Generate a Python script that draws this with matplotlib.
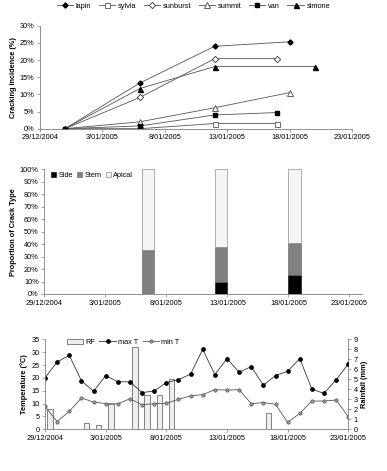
import matplotlib
matplotlib.use("Agg")
import matplotlib.pyplot as plt
import matplotlib.dates as mdates
from matplotlib.lines import Line2D
from matplotlib.patches import Patch
import pandas as pd
import numpy as np

plt.rcParams['font.family'] = ['Liberation Sans', 'DejaVu Sans']

# ---------------- data ----------------
tick_dates = ["2004-12-29", "2005-01-03", "2005-01-08", "2005-01-13", "2005-01-18", "2005-01-23"]
tick_labels = ["29/12/2004", "3/01/2005", "8/01/2005", "13/01/2005", "18/01/2005", "23/01/2005"]

# Panel 1: cracking incidence (%)
lapin_dates = ["2004-12-31", "2005-01-06", "2005-01-12", "2005-01-18"]
lapin = [0.0, 13.3, 24.0, 25.3]
sylvia_dates = ["2004-12-31", "2005-01-06", "2005-01-12", "2005-01-17"]
sylvia = [0.0, 0.0, 1.5, 1.5]
sunburst_dates = ["2004-12-31", "2005-01-06", "2005-01-12", "2005-01-17"]
sunburst = [0.0, 9.1, 20.4, 20.4]
summit_dates = ["2004-12-31", "2005-01-06", "2005-01-12", "2005-01-18"]
summit = [0.0, 2.0, 6.1, 10.5]
van_dates = ["2004-12-31", "2005-01-06", "2005-01-12", "2005-01-17"]
van = [0.0, 0.8, 4.0, 4.7]
simone_dates = ["2004-12-31", "2005-01-06", "2005-01-12", "2005-01-20"]
simone = [0.0, 11.7, 18.1, 18.1]

# Panel 2: proportion of crack type (%)
crack_dates = ["2005-01-06", "2005-01-12", "2005-01-18"]
side = [0.0, 9.6, 15.0]
stem = [35.5, 27.8, 26.2]
apical = [64.5, 62.6, 58.8]

# Panel 3: weather
weather_dates = pd.date_range("2004-12-29", "2005-01-23", freq="D")
max_t = [20.1, 26.2, 28.8, 18.9, 14.8, 20.9, 18.5, 18.5, 14.3, 14.9, 18.2, 19.3, 21.5,
         31.1, 21.3, 27.5, 22.2, 24.4, 17.2, 20.9, 22.6, 27.5, 15.6, 14.0, 19.3, 25.4]
min_t = [8.9, 3.0, 7.0, 12.2, 10.6, 10.0, 9.9, 11.9, 9.5, 10.0, 10.1, 11.7, 13.0,
         13.5, 15.4, 15.3, 15.4, 10.0, 10.4, 9.7, 2.7, 6.2, 11.0, 11.0, 11.4, 4.9]
rf_dates = ["2004-12-29", "2005-01-01", "2005-01-02", "2005-01-03", "2005-01-05",
            "2005-01-06", "2005-01-07", "2005-01-08", "2005-01-16"]
rainfall = [2.0, 0.6, 0.4, 2.5, 8.2, 3.4, 3.4, 5.0, 1.6]

# ---------------- styling helpers ----------------
FS = 5.3
AX_COL = "#808080"

def d(lst):
    return mdates.date2num(pd.to_datetime(lst))

xt = d(tick_dates)
x0 = d(["2004-12-29"])[0]

def style(ax, right=False):
    for s in ["top", "right"]:
        ax.spines[s].set_visible(False)
    for s in ["left", "bottom"]:
        ax.spines[s].set_color(AX_COL)
        ax.spines[s].set_linewidth(0.6)
    ax.tick_params(axis="both", labelsize=FS, length=2.5, width=0.5, color=AX_COL, pad=1.5)
    ax.set_xticks(xt)
    ax.set_xticklabels(tick_labels)

fig = plt.figure(figsize=(3.87, 4.71), dpi=100)

# ---------------- Panel 1 ----------------
ax1 = fig.add_axes([0.1034, 0.7268, 0.806, 0.2187])
style(ax1)
lc = "#555555"
series = [
    ("lapin", lapin_dates, lapin, dict(marker="D", ms=2.6, mfc="black", mec="black")),
    ("sylvia", sylvia_dates, sylvia, dict(marker="s", ms=3.6, mfc="white", mec="#555555", mew=0.6)),
    ("sunburst", sunburst_dates, sunburst, dict(marker="D", ms=3.2, mfc="white", mec="#333333", mew=0.6)),
    ("summit", summit_dates, summit, dict(marker="^", ms=4.0, mfc="white", mec="#444444", mew=0.6)),
    ("van", van_dates, van, dict(marker="s", ms=3.0, mfc="black", mec="black")),
    ("simone", simone_dates, simone, dict(marker="^", ms=3.6, mfc="black", mec="black")),
]
for name, dts, vals, mk in series:
    ax1.plot(d(dts), vals, color=lc, lw=0.6, label=name, **mk)
ax1.set_xlim(x0, x0 + 25)
ax1.set_ylim(0, 30)
ax1.set_yticks(np.arange(0, 31, 5))
ax1.set_yticklabels([f"{v}%" for v in range(0, 31, 5)])
ax1.set_ylabel("Cracking Incidence (%)", fontsize=FS, fontweight="bold", labelpad=2)
fig.legend(loc="center", bbox_to_anchor=(0.5, 0.987), ncol=6, frameon=False,
           fontsize=FS, handlelength=2.2, columnspacing=1.0, handletextpad=0.4,
           borderaxespad=0)

# ---------------- Panel 2 ----------------
ax2 = fig.add_axes([0.1145, 0.3758, 0.820, 0.2648])
style(ax2)
cx = d(crack_dates)
ax2.bar(cx, side, width=1.0, align="edge", color="black", edgecolor="black", lw=0.4, label="Side")
ax2.bar(cx, stem, width=1.0, align="edge", bottom=side, color="#808080", edgecolor="#606060", lw=0.4, label="Stem")
ax2.bar(cx, apical, width=1.0, align="edge", bottom=np.array(side) + np.array(stem),
        color="#f5f5f5", edgecolor="#777777", lw=0.4, label="Apical")
ax2.set_xlim(x0, x0 + 26)
ax2.set_ylim(0, 100)
ax2.set_yticks(np.arange(0, 101, 10))
ax2.set_yticklabels([f"{v}%" for v in range(0, 101, 10)])
ax2.set_ylabel("Proportion of Crack Type", fontsize=FS, fontweight="bold", labelpad=2)
ax2.legend(loc="upper left", bbox_to_anchor=(0.0, 1.03), ncol=3, frameon=False, fontsize=FS,
           handlelength=0.7, handleheight=0.7, columnspacing=0.6, handletextpad=0.3)

# ---------------- Panel 3 ----------------
ax3 = fig.add_axes([0.1163, 0.0885, 0.7837, 0.191])
style(ax3)
ax4 = ax3.twinx()
for s in ["top", "left", "bottom"]:
    ax4.spines[s].set_visible(False)
ax4.spines["right"].set_color(AX_COL)
ax4.spines["right"].set_linewidth(0.6)
ax4.tick_params(axis="y", labelsize=FS, length=2.5, width=0.5, color=AX_COL, pad=1.5)
rx = d(rf_dates)
ax4.bar(rx + 0.2, rainfall, width=0.45, align="edge", color="#eeeeee", edgecolor="#555555", lw=0.5)
ax4.set_ylim(0, 9)
ax4.set_yticks(range(0, 10))
ax4.set_ylabel("Rainfall (mm)", fontsize=FS, fontweight="bold", labelpad=2)

ax3.set_zorder(ax4.get_zorder() + 1)
ax3.patch.set_visible(False)
wx = mdates.date2num(weather_dates)
ax3.plot(wx, max_t, color="#333333", lw=0.6, marker="o", ms=2.4, mfc="black", mec="black")
ax3.plot(wx, min_t, color="#555555", lw=0.6, marker="o", ms=2.4, mfc="#999999", mec="#555555", mew=0.5)
ax3.set_xlim(x0, x0 + 25)
ax3.set_ylim(0, 35)
ax3.set_yticks(range(0, 36, 5))
ax3.set_ylabel("Temperature (°C)", fontsize=FS, fontweight="bold", labelpad=2)

handles = [Patch(facecolor="#eeeeee", edgecolor="#555555", lw=0.5),
           Line2D([], [], color="#333333", lw=0.6, marker="o", ms=2.4, mfc="black", mec="black"),
           Line2D([], [], color="#555555", lw=0.6, marker="o", ms=2.4, mfc="#999999", mec="#555555", mew=0.5)]
ax3.legend(handles, ["RF", "max T", "min T"], loc="upper left", bbox_to_anchor=(0.05, 1.08),
           ncol=3, frameon=False, fontsize=FS, handlelength=2.2, handleheight=0.6,
           columnspacing=0.6, handletextpad=0.3)

fig.savefig("out.png", dpi=100)
